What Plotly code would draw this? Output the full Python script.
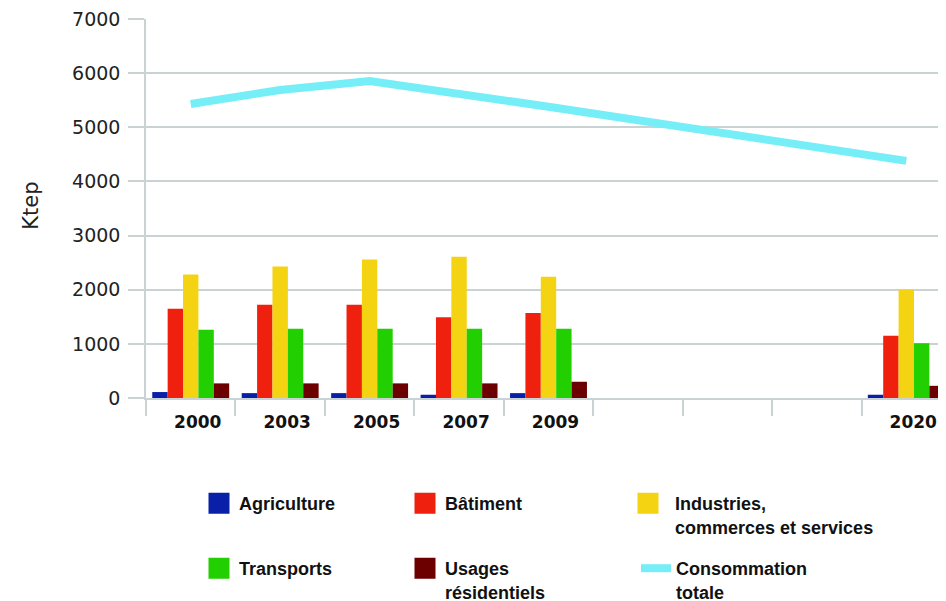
import plotly.graph_objects as go

# ---- data ----
categories = ["2000", "2003", "2005", "2007", "2009", "c6", "c7", "c8", "2020"]
tick_labels = ["2000", "2003", "2005", "2007", "2009", "", "", "", "2020"]

agriculture = [110, 90, 90, 60, 90, None, None, None, 60]
batiment = [1650, 1720, 1720, 1490, 1570, None, None, None, 1150]
industries = [2280, 2430, 2560, 2610, 2240, None, None, None, 2000]
transports = [1260, 1280, 1280, 1280, 1280, None, None, None, 1010]
usages = [270, 270, 270, 270, 300, None, None, None, 225]
consommation = [5430, 5690, 5855, 5620, 5380, None, None, None, 4380]

series_names = ["Agriculture", "Bâtiment", "Industries,<br>commerces et services",
                "Transports", "Usages<br>résidentiels"]
series_values = [agriculture, batiment, industries, transports, usages]
series_colors = ["#0a1fa8", "#f0200e", "#f4d312", "#22cf00", "#6c0000"]
line_name = "Consommation<br>totale"
line_color = "#76eef7"
y_title = "Ktep"

GRID = "#c9d3d3"
W, H = 946, 601

fig = go.Figure()

for vals, col in zip(series_values, series_colors):
    fig.add_trace(go.Bar(x=categories, y=vals, marker=dict(color=col, line=dict(width=0)),
                         showlegend=False, hoverinfo="skip"))

fig.add_trace(go.Scatter(x=categories, y=consommation, mode="lines", connectgaps=True,
                         line=dict(color=line_color, width=8), name=line_name,
                         legend="legend6"))

# legend-only entries for the bars (square swatches)
legend_ids = ["legend", "legend2", "legend3", "legend4", "legend5"]
for name, col, lid in zip(series_names, series_colors, legend_ids):
    fig.add_trace(go.Scatter(x=[None], y=[None], mode="markers", name=name,
                             marker=dict(symbol="square", size=16, color=col,
                                         line=dict(color=col, width=5)),
                             legend=lid))

# legend positions (container px of top-left)
leg_pos = {
    "legend": (191, 477, 30),
    "legend2": (397, 477, 30),
    "legend3": (613, 477, 44),
    "legend4": (191, 542, 30),
    "legend5": (397, 542, 30),
    "legend6": (628, 542, 30),
}
leg_font = dict(family="Liberation Sans", size=18, color="#111111", weight="bold")
legends = {}
for lid, (px, py, iw) in leg_pos.items():
    legends[lid] = dict(x=px / W, y=1 - py / H, xref="container", yref="container",
                        xanchor="left", yanchor="top", font=leg_font, itemwidth=iw,
                        bgcolor="rgba(0,0,0,0)", borderwidth=0, valign="top",
                        itemclick=False, itemdoubleclick=False)

fig.update_layout(
    width=W, height=H, autosize=False,
    margin=dict(l=138, r=3, t=11, b=211, pad=0, autoexpand=False),
    paper_bgcolor="white", plot_bgcolor="white",
    barmode="group", bargap=0.14, bargroupgap=0,
    font=dict(family="DejaVu Sans", color="#222222"),
    annotations=[dict(text=y_title, xref="paper", yref="paper", x=-0.143, y=0.507,
                      xanchor="center", yanchor="middle", textangle=-90, showarrow=False,
                      font=dict(family="DejaVu Sans", size=21, color="#222222"))],
    **legends,
)

fig.update_xaxes(
    type="category", categoryorder="array", categoryarray=categories,
    tickmode="array", tickvals=categories, ticktext=tick_labels,
    range=[-0.5, 8.5],
    showgrid=False, zeroline=False,
    showline=True, linecolor=GRID, linewidth=1.5,
    ticks="outside", tickson="boundaries", ticklen=16, tickwidth=1.5, tickcolor=GRID,
    tickfont=dict(family="DejaVu Sans", size=17, color="#111111", weight="bold"),
    ticklabelshift=7, ticklabelstandoff=8, tickangle=0, automargin=False,
)
fig.update_yaxes(
    range=[0, 7000], dtick=1000, tick0=0,
    showgrid=True, gridcolor=GRID, gridwidth=1.5, zeroline=False,
    showline=True, linecolor=GRID, linewidth=1.5,
    ticks="outside", ticklen=16, tickwidth=1.5, tickcolor=GRID,
    tickfont=dict(family="DejaVu Sans", size=19, color="#222222"),
    ticklabelstandoff=4, ticklabeloverflow="allow",
    automargin=False,
)

fig.write_html("out.html")
